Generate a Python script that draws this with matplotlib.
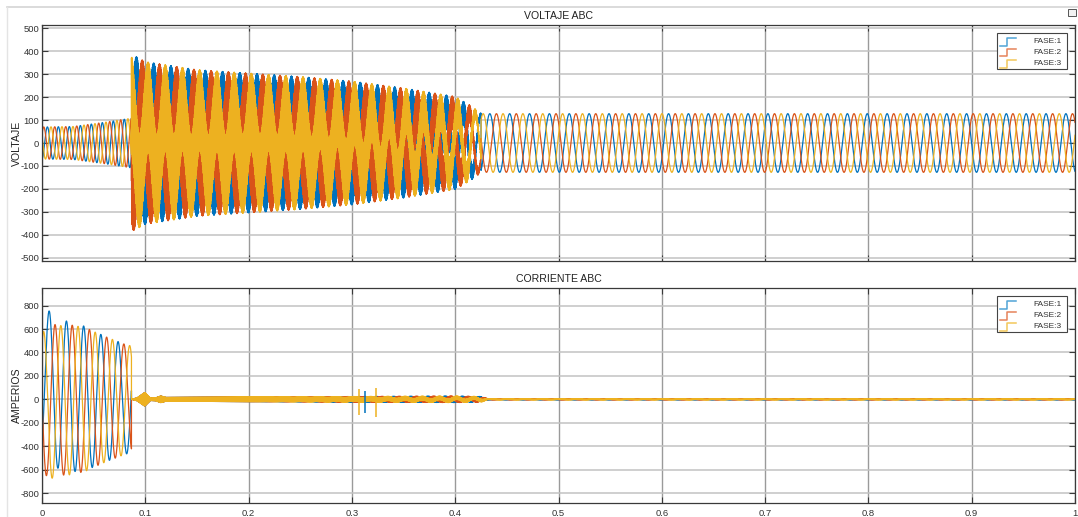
import numpy as np
import matplotlib
matplotlib.use("Agg")
import matplotlib.pyplot as plt
from matplotlib.lines import Line2D
from matplotlib.patches import Rectangle

# ---------------------------------------------------------------- data
phase_labels = ["FASE:1", "FASE:2", "FASE:3"]
phase_colors = ["#0072BD", "#D95319", "#EDB120"]
legend_colors = ["#4fa3d6", "#e5825a", "#f2c75a"]

x_ticks = [0, 0.1, 0.2, 0.3, 0.4, 0.5, 0.6, 0.7, 0.8, 0.9, 1.0]
x_ticklabels = ["0", "0.1", "0.2", "0.3", "0.4", "0.5", "0.6", "0.7", "0.8", "0.9", "1"]
v_ticks = [-500, -400, -300, -200, -100, 0, 100, 200, 300, 400, 500]
i_ticks = [-800, -600, -400, -200, 0, 200, 400, 600, 800]

# voltage: pre-fault, fault transient and post-fault regimes
v_pre_freq = 94.0                               # Hz
v_pre_env_t = [0.0, 0.03, 0.06, 0.086]
v_pre_env_amp = [70, 72, 90, 108]
v_pre_peak_time = [0.0052, 0.0017, 0.0087]      # first positive peak per phase

v_fund_freq = 60.0
v_fault_t = [0.086, 0.09, 0.1, 0.15, 0.2, 0.25, 0.3, 0.35, 0.4, 0.415, 0.425]
v_fault_fund = [175, 170, 160, 145, 135, 130, 130, 140, 135, 128, 125]
v_fault_ripple = [210, 210, 195, 175, 170, 160, 140, 100, 68, 35, 5]
v_ripple_freq = [2510.0, 2630.0, 2770.0]
v_fault_peak_time = [0.0915, 0.0971, 0.1027]

v_post_freq = 52.0
v_post_amp = 128.0
v_post_peak_time = [0.4335, 0.4399, 0.4463]

# current: inrush regime then residual ripple
i_freq = 60.0
i_env_t = [0.0, 0.02, 0.04, 0.05, 0.06, 0.07, 0.08, 0.0866]
i_env_amp = [640, 645, 620, 580, 540, 505, 470, 455]
i_peak_time = [0.0070, 0.0126, 0.0182]
i_dc_offset = [200, -15, -70]
i_dc_tau = 0.012

i_res_t = [0.0866, 0.092, 0.0995, 0.105, 0.110, 0.115, 0.120, 0.20, 0.30, 0.35, 0.40, 0.425, 0.432, 1.0]
i_res_amp = [0, 12, 58, 10, 12, 28, 16, 20, 20, 17, 15, 12, 3, 3]
i_res_fund = [0, 0, 0, 0, 0, 0, 0, 0, 4, 9, 13, 12, 2, 2]
i_res_freq = [1830.0, 1970.0, 2110.0]

spike_t = [0.307, 0.3124, 0.3234]
spike_phase = [2, 0, 2]
spike_hi = [85, 74, 94]
spike_lo = [-134, -119, -153]

t_fault_on = 0.0866
t_fault_off = 0.425

# ---------------------------------------------------------------- signals
t = np.linspace(0.0, 1.0, 160001)
pre = t < t_fault_on
fault = (t >= t_fault_on) & (t < t_fault_off)
post = t >= t_fault_off

volt = []
curr = []
for k in range(3):
    v = np.zeros_like(t)
    a = np.interp(t, v_pre_env_t, v_pre_env_amp)
    v[pre] = (a * np.cos(2 * np.pi * v_pre_freq * (t - v_pre_peak_time[k])))[pre]
    a1 = np.interp(t, v_fault_t, v_fault_fund)
    a2 = np.interp(t, v_fault_t, v_fault_ripple)
    vf = a1 * np.cos(2 * np.pi * v_fund_freq * (t - v_fault_peak_time[k])) \
        + a2 * np.sin(2 * np.pi * v_ripple_freq[k] * t + 1.3 * k)
    v[fault] = vf[fault]
    v[post] = (v_post_amp * np.cos(2 * np.pi * v_post_freq * (t - v_post_peak_time[k])))[post]
    volt.append(v)

    c = np.zeros_like(t)
    ai = np.interp(t, i_env_t, i_env_amp)
    ci = ai * np.cos(2 * np.pi * i_freq * (t - i_peak_time[k])) \
        + i_dc_offset[k] * np.exp(-t / i_dc_tau)
    c[pre] = ci[pre]
    r = np.interp(t, i_res_t, i_res_amp)
    rf = np.interp(t, i_res_t, i_res_fund)
    cr = r * np.sin(2 * np.pi * i_res_freq[k] * t + 0.9 * k) \
        + rf * np.cos(2 * np.pi * i_freq * (t - i_peak_time[k]))
    c[~pre] = cr[~pre]
    curr.append(c)

# ---------------------------------------------------------------- figure
W, H = 1078, 517
plt.rcParams["font.family"] = ["Liberation Sans", "DejaVu Sans"]
fig = plt.figure(figsize=(W / 100, H / 100), dpi=100, facecolor="white")


def fx(px):
    return px / W


def fy(py):
    return 1 - py / H


# light window frame and dock icon
fig.add_artist(Line2D([fx(7), 1.0], [fy(7), fy(7)], transform=fig.transFigure,
                      color="#d4d4d4", lw=1.2))
fig.add_artist(Line2D([fx(7), fx(7)], [0.0, fy(7)], transform=fig.transFigure,
                      color="#e4e4e4", lw=1.0))
fig.add_artist(Rectangle((fx(1068), fy(16)), fx(8), 7 / H, transform=fig.transFigure,
                         facecolor="#f2f2f2", edgecolor="#555555", lw=0.7))

ax_v = fig.add_axes([fx(42), fy(261), fx(1033), 236 / H])
ax_i = fig.add_axes([fx(42), fy(503), fx(1033), 215 / H])


def draw_legend(left, top):
    """Boxed legend with step-shaped handles, placed in pixel units."""
    width, height = 70, 36
    fig.add_artist(Rectangle((fx(left), fy(top + height)), fx(width), height / H,
                             transform=fig.transFigure, facecolor="white",
                             edgecolor="#444444", lw=0.8, zorder=10))
    for j, (lab, col) in enumerate(zip(phase_labels, legend_colors)):
        yc = top + 8.5 + 11 * j
        xs = [left + 2.5, left + 10, left + 10, left + 19]
        ys = [yc + 4, yc + 4, yc - 4, yc - 4]
        fig.add_artist(Line2D([fx(x) for x in xs], [fy(y) for y in ys],
                              transform=fig.transFigure, color=col, lw=1.1,
                              zorder=11))
        fig.text(fx(left + 65), fy(yc), lab, ha="right", va="center",
                 fontsize=6.0, color="#333333", zorder=11)


def style_axes(ax, yticks, ylim, title, ylabel, show_xlabels):
    ax.set_xlim(0, 1)
    ax.set_ylim(*ylim)
    ax.set_xticks(x_ticks)
    ax.set_yticks(yticks)
    ax.set_yticklabels([str(v) for v in yticks])
    if show_xlabels:
        ax.set_xticklabels(x_ticklabels)
    else:
        ax.set_xticklabels([])
    ax.tick_params(axis="both", direction="in", length=4, width=0.8,
                   color="#3a3a3a", labelsize=6.8, labelcolor="#333333",
                   right=True, top=True)
    ax.tick_params(axis="y", pad=2)
    ax.tick_params(axis="x", pad=4)
    for s in ax.spines.values():
        s.set_color("#3a3a3a")
        s.set_linewidth(0.9)
    ax.grid(True, axis="y", color="#c2c2c2", lw=1.1)
    ax.grid(True, axis="x", color="#9a9a9a", lw=1.0)
    ax.set_axisbelow(True)
    ax.set_title(title, fontsize=7.6, color="#222222", pad=4)
    ax.set_ylabel(ylabel, fontsize=7.6, color="#222222")
    # label baseline sits just left of the tick labels
    ax.yaxis.set_label_coords(-20 / 1033, 0.5)


for k in range(3):
    ax_v.plot(t, volt[k], color=phase_colors[k], lw=0.9)
    ax_i.plot(t, curr[k], color=phase_colors[k], lw=0.9)

for ts, ph, hi, lo in zip(spike_t, spike_phase, spike_hi, spike_lo):
    ax_i.vlines(ts, lo, hi, color=phase_colors[ph], lw=1.1)

style_axes(ax_v, v_ticks, (-515, 515), "VOLTAJE ABC", "VOLTAJE", False)
style_axes(ax_i, i_ticks, (-885, 950), "CORRIENTE ABC", "AMPERIOS", True)

draw_legend(997, 33)
draw_legend(997, 296)

fig.savefig("out.png", dpi=100, facecolor="white")
